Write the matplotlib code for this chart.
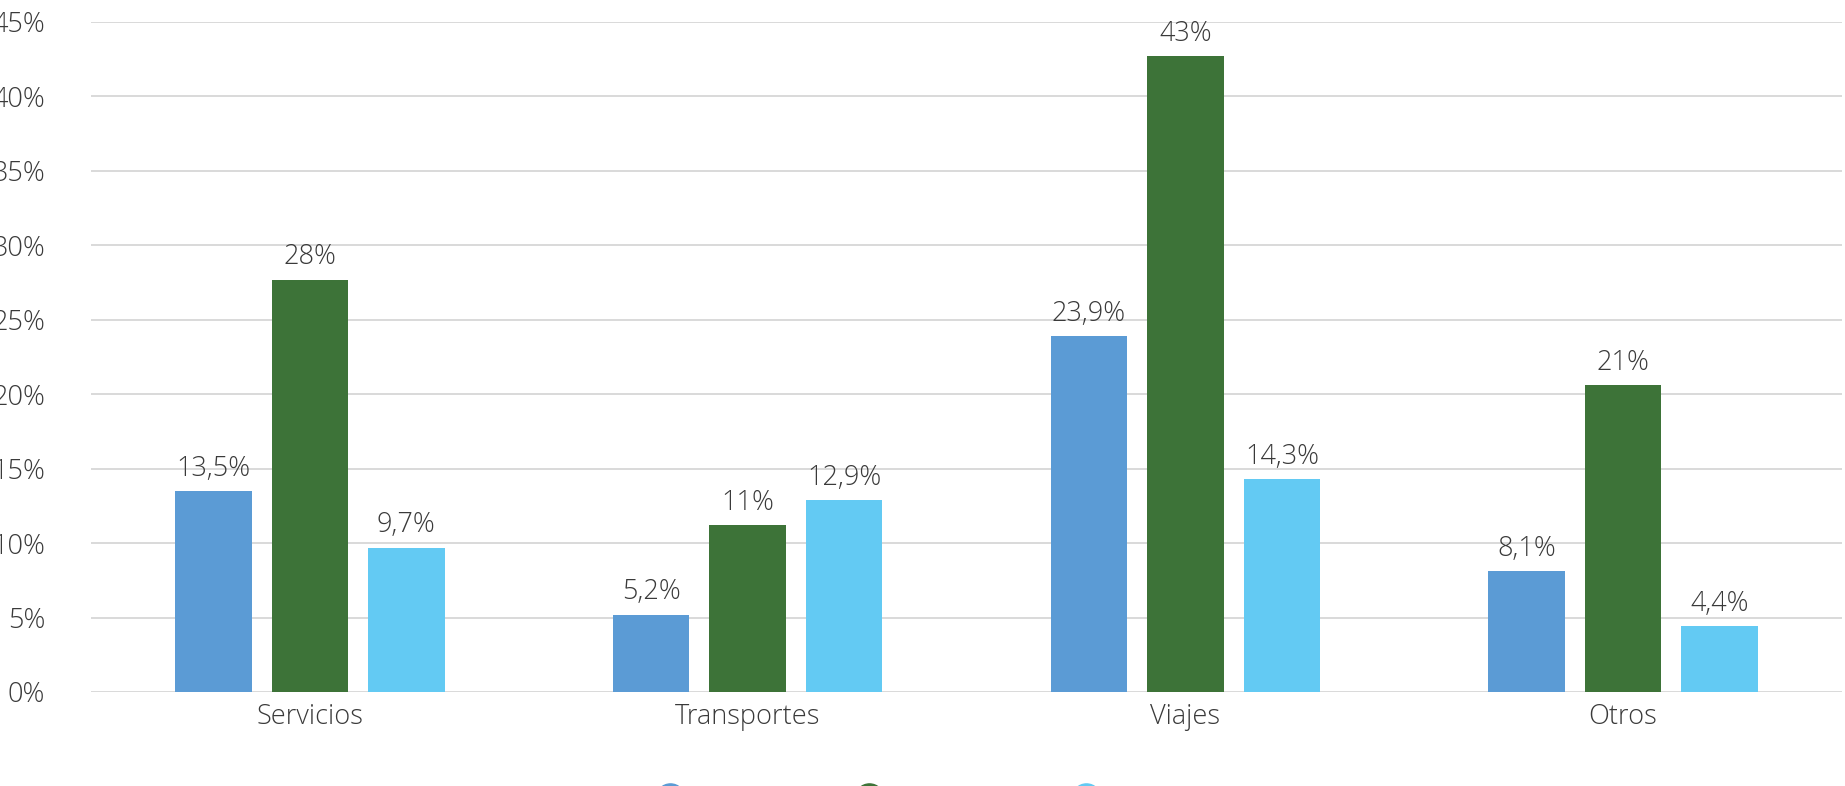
import numpy as np
import matplotlib
matplotlib.use("Agg")
import matplotlib.pyplot as plt
from matplotlib.lines import Line2D

categories = ["Servicios", "Transportes", "Viajes", "Otros"]
series_names = ["Serie 1", "Serie 2", "Serie 3"]
serie1 = [13.5, 5.2, 23.9, 8.1]
serie2 = [27.7, 11.2, 42.7, 20.6]
serie3 = [9.7, 12.9, 14.3, 4.4]
labels1 = ["13,5%", "5,2%", "23,9%", "8,1%"]
labels2 = ["28%", "11%", "43%", "21%"]
labels3 = ["9,7%", "12,9%", "14,3%", "4,4%"]
yticks = [0, 5, 10, 15, 20, 25, 30, 35, 40, 45]

colors = ["#5B9BD5", "#3D7338", "#63CAF3"]
text_color = "#3a3a3a"
fs = 19.5

plt.rcParams['font.family'] = ['Open Sans', 'DejaVu Sans']
plt.rcParams['font.weight'] = 'light'

fig = plt.figure(figsize=(18.45, 7.86), dpi=100)
ax = fig.add_axes([91/1845, 94/786, (1842-91)/1845, (692-22)/786])

x = np.arange(len(categories))
width = 0.175
step = 0.2204
all_vals = [serie1, serie2, serie3]
all_labels = [labels1, labels2, labels3]

for i, (vals, labs) in enumerate(zip(all_vals, all_labels)):
    pos = x + (i - 1) * step
    bars = ax.bar(pos, vals, width, color=colors[i], zorder=3)
    for b, lab in zip(bars, labs):
        ax.annotate(lab, (b.get_x() + b.get_width()/2, b.get_height()),
                    xytext=(0, 6), textcoords="offset points",
                    ha="center", va="bottom", fontsize=fs,
                    color=text_color, fontweight='light')

ax.set_xlim(-0.5, len(categories) - 0.5)
ax.set_ylim(0, 45)
ax.set_yticks(yticks)
ax.set_yticklabels([f"{t}%" for t in yticks])
ax.set_xticks(x)
ax.set_xticklabels(categories)
ax.tick_params(axis="y", length=0, pad=33, labelsize=fs, labelcolor=text_color)
ax.tick_params(axis="x", length=0, pad=8, labelsize=fs, labelcolor=text_color)
ax.yaxis.grid(True, color="#d9d9d9", linewidth=1.4, zorder=0)
ax.set_axisbelow(True)
for s in ax.spines.values():
    s.set_visible(False)

# legend, mostly below the visible area
centers = [670, 869, 1086]
for c, name, col in zip(centers, series_names, colors):
    h = Line2D([], [], marker="o", linestyle="none", markersize=21,
               markerfacecolor=col, markeredgecolor=col)
    fig.legend([h], [name], loc="center left",
               bbox_to_anchor=((c - 12) / 1845, 1 - 800 / 786),
               frameon=False, fontsize=17, handlelength=1,
               borderpad=0, borderaxespad=0, handletextpad=0.5,
               labelcolor=text_color)

fig.savefig("out.png", dpi=100)
